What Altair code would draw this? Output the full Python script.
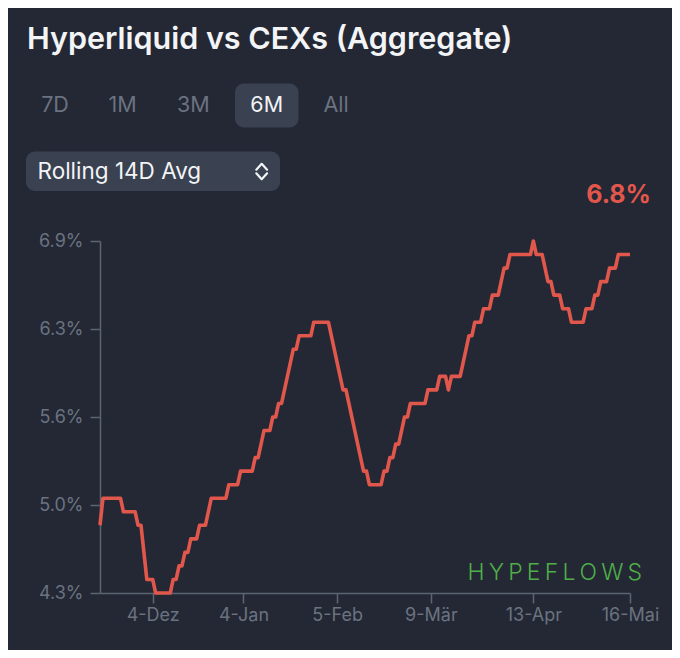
import altair as alt
import pandas as pd

# ---- data (vertices of the rolling 14D avg line, %) ----
dates = [
    "2024-11-16", "2024-11-17", "2024-11-23", "2024-11-24", "2024-11-28", "2024-11-29",
    "2024-11-30", "2024-12-02", "2024-12-04", "2024-12-05", "2024-12-10", "2024-12-11",
    "2024-12-12", "2024-12-13", "2024-12-14", "2024-12-15", "2024-12-16", "2024-12-17",
    "2024-12-19", "2024-12-20", "2024-12-22", "2024-12-24", "2024-12-29", "2024-12-30",
    "2025-01-02", "2025-01-03", "2025-01-07", "2025-01-08", "2025-01-09", "2025-01-11",
    "2025-01-13", "2025-01-14", "2025-01-15", "2025-01-16", "2025-01-17", "2025-01-21",
    "2025-01-22", "2025-01-23", "2025-01-27", "2025-01-28", "2025-02-02", "2025-02-07",
    "2025-02-08", "2025-02-14", "2025-02-15", "2025-02-16", "2025-02-20", "2025-02-21",
    "2025-02-22", "2025-02-23", "2025-02-24", "2025-02-25", "2025-02-26", "2025-02-28",
    "2025-03-01", "2025-03-02", "2025-03-07", "2025-03-08", "2025-03-11", "2025-03-12",
    "2025-03-14", "2025-03-15", "2025-03-16", "2025-03-19", "2025-03-22", "2025-03-23",
    "2025-03-24", "2025-03-26", "2025-03-27", "2025-03-29", "2025-03-30", "2025-04-01",
    "2025-04-03", "2025-04-04", "2025-04-05", "2025-04-12", "2025-04-13", "2025-04-14",
    "2025-04-16", "2025-04-18", "2025-04-19", "2025-04-20", "2025-04-22", "2025-04-23",
    "2025-04-25", "2025-04-26", "2025-04-30", "2025-05-01", "2025-05-03", "2025-05-04",
    "2025-05-05", "2025-05-06", "2025-05-08", "2025-05-09", "2025-05-11", "2025-05-12",
    "2025-05-16",
]
values = [
    4.8, 5.0, 5.0, 4.9, 4.9, 4.8,
    4.8, 4.4, 4.4, 4.3, 4.3, 4.4,
    4.4, 4.5, 4.5, 4.6, 4.6, 4.7,
    4.7, 4.8, 4.8, 5.0, 5.0, 5.1,
    5.1, 5.2, 5.2, 5.3, 5.3, 5.5,
    5.5, 5.6, 5.6, 5.7, 5.7, 6.1,
    6.1, 6.2, 6.2, 6.3, 6.3, 5.8,
    5.8, 5.2, 5.2, 5.1, 5.1, 5.2,
    5.2, 5.3, 5.3, 5.4, 5.4, 5.6,
    5.6, 5.7, 5.7, 5.8, 5.8, 5.9,
    5.9, 5.8, 5.9, 5.9, 6.2, 6.2,
    6.3, 6.3, 6.4, 6.4, 6.5, 6.5,
    6.7, 6.7, 6.8, 6.8, 6.9, 6.8,
    6.8, 6.6, 6.6, 6.5, 6.5, 6.4,
    6.4, 6.3, 6.3, 6.4, 6.4, 6.5,
    6.5, 6.6, 6.6, 6.7, 6.7, 6.8,
    6.8,
]

x_domain = ["2024-11-16", "2025-05-16"]
x_tick_dates = ["2024-12-04", "2025-01-04", "2025-02-05", "2025-03-09", "2025-04-13", "2025-05-16"]
x_tick_labels = ["4-Dez", "4-Jan", "5-Feb", "9-Mär", "13-Apr", "16-Mai"]
y_domain = [4.3, 6.9]
y_ticks = [4.3, 4.95, 5.6, 6.25, 6.9]
y_tick_labels = ["4.3%", "5.0%", "5.6%", "6.3%", "6.9%"]

title_text = "Hyperliquid vs CEXs (Aggregate)"
range_buttons = ["7D", "1M", "3M", "6M", "All"]
selected_button = "6M"
dropdown_text = "Rolling 14D Avg"
latest_text = "6.8%"
watermark = "HYPEFLOWS"

# ---- styling ----
BG = "#232834"
RED = "#e2574c"
GRAY = "#6b7280"
AXIS = "#5d6471"
PANEL = "#3a4151"
WHITE = "#f3f4f6"
GREEN = "#4fae48"
FONT = "Inter"

df = pd.DataFrame({"date": dates, "value": values})


def ms(d):
    return int(pd.Timestamp(d, tz="UTC").value // 10**6)


x_vals = [ms(d) for d in x_tick_dates]
x_expr = " : ".join(f"time(datum.value) == {m} ? '{l}'" for m, l in zip(x_vals, x_tick_labels)) + " : ''"
y_expr = " : ".join(f"abs(datum.value - {v}) < 0.01 ? '{l}'" for v, l in zip(y_ticks, y_tick_labels)) + " : ''"

axis_common = dict(
    domainColor=AXIS, tickColor=AXIS, domainWidth=1.5, tickWidth=1.5, tickSize=10,
    labelColor=GRAY, labelFont=FONT, labelFontSize=18, grid=False, title=None,
    labelFlush=False, labelOverlap=False, labelBound=False,
)

line = alt.Chart(df).mark_line(color=RED, strokeWidth=3.6, strokeJoin="round").encode(
    x=alt.X(
        "date:T",
        scale=alt.Scale(type="utc", domain=[ms(d) for d in x_domain]),
        axis=alt.Axis(values=x_vals, labelExpr=x_expr, labelPadding=3, labelAngle=0, **axis_common),
    ),
    y=alt.Y(
        "value:Q",
        scale=alt.Scale(domain=y_domain, nice=False, zero=False),
        axis=alt.Axis(values=y_ticks, labelExpr=y_expr, labelPadding=7, **axis_common),
    ),
)

one = pd.DataFrame({"k": [0]})


def text_layer(txt, x, y, size, color, weight="normal", align="left", font=FONT):
    return alt.Chart(pd.DataFrame({"t": [txt]})).mark_text(
        align=align, baseline="middle", font=font, fontSize=size, fontWeight=weight, color=color
    ).encode(x=alt.value(x), y=alt.value(y), text="t:N")


layers = [line]

# title
layers.append(text_layer(title_text, -73, -201, 30.5, WHITE, weight=600))

# range selector
sel_box = alt.Chart(one).mark_rect(color=PANEL, cornerRadius=9).encode(
    x=alt.value(135), x2=alt.value(198.5), y=alt.value(-157.5), y2=alt.value(-113.5)
)
layers.append(sel_box)
button_x = [-45, 22.7, 93.3, 166.7, 236]
for lbl, bx in zip(range_buttons, button_x):
    layers.append(text_layer(lbl, bx, -135.5, 21.5, WHITE if lbl == selected_button else GRAY, align="center"))

# dropdown
drop_box = alt.Chart(one).mark_rect(color=PANEL, cornerRadius=9).encode(
    x=alt.value(-74), x2=alt.value(180), y=alt.value(-89.5), y2=alt.value(-50)
)
layers.append(drop_box)
layers.append(text_layer(dropdown_text, -62.5, -69, 22.5, WHITE))
chevron = alt.Chart(one).mark_point(
    shape="M-0.6,-0.2L0,-0.85L0.6,-0.2M-0.6,0.2L0,0.85L0.6,0.2",
    filled=False, stroke=WHITE, strokeWidth=2.2, size=324, strokeCap="round", strokeJoin="round", opacity=1,
).encode(x=alt.value(161.7), y=alt.value(-69.5))
layers.append(chevron)

# latest value
layers.append(text_layer(latest_text, 551, -46, 25, RED, weight=700, align="right"))

# watermark
layers.append(text_layer("\u2009".join(watermark), 367.5, 331.5, 23, GREEN, weight=300))

chart = alt.layer(*layers).properties(
    width=530,
    height=352,
    padding={"left": 92, "top": 233, "right": 42, "bottom": 57},
    autosize=alt.AutoSizeParams(type="none"),
    background=BG,
).configure_view(stroke=None)

chart.save("out.html", embed_options={"renderer": "svg", "actions": False})
